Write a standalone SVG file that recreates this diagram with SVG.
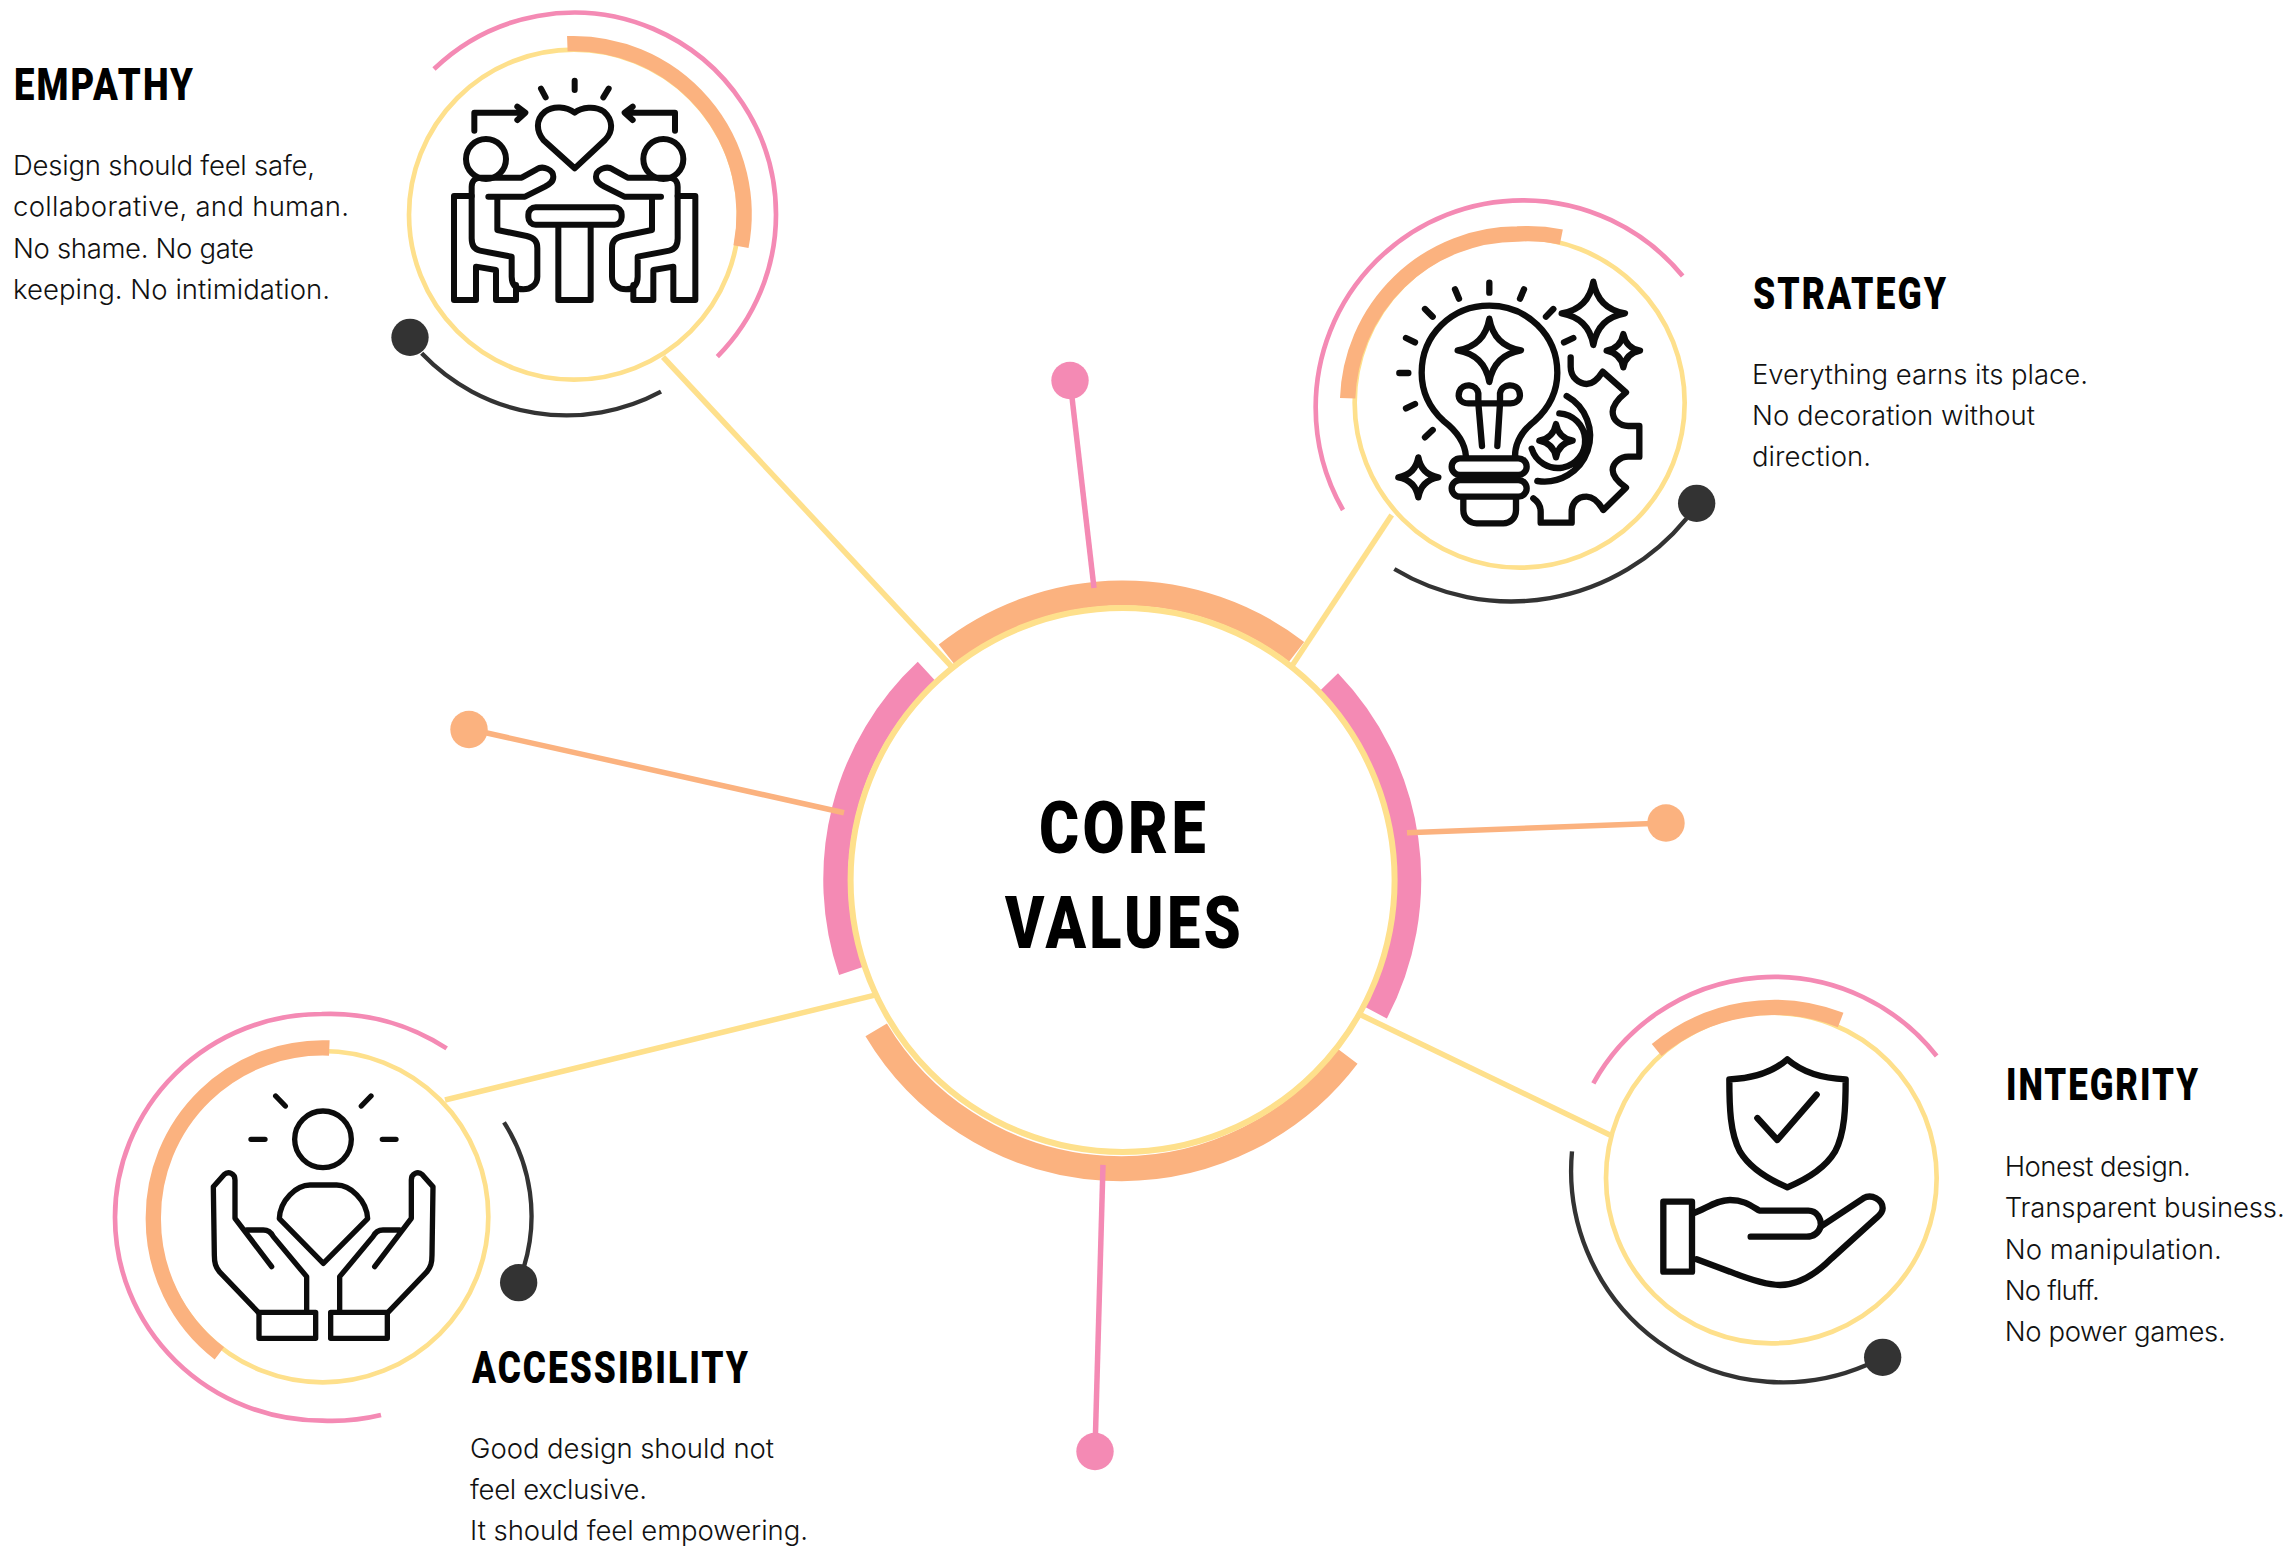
<svg xmlns="http://www.w3.org/2000/svg" width="2289" height="1560" viewBox="0 0 2289 1560">
<style>
.a{fill:none;stroke-linecap:butt}
.y{stroke:#FEE08C;stroke-width:14}
.p{stroke:#F48AB4;stroke-width:14}
.o{stroke:#FBB27F;stroke-width:46}
.d{stroke:#333;stroke-width:13}
.dot{fill:#333}
.ic{fill:none;stroke:#0c0c0c;stroke-width:18;stroke-linecap:round;stroke-linejoin:round}
.ln{fill:none;stroke-width:5.5}
.ly{stroke:#FEE08C}.lo{stroke:#FBB27F}.lp{stroke:#F48AB4}
.h{font-family:"Roboto","Liberation Sans",sans-serif;font-weight:900;font-size:44px;letter-spacing:2.5px;fill:#000}
.b{font-family:"Inter","Liberation Sans",sans-serif;font-weight:300;font-size:27.5px;fill:#111}
.t{font-family:"Roboto","Liberation Sans",sans-serif;font-weight:900;font-size:73px;letter-spacing:4px;fill:#000}
</style>
<g id="core">
<path class="a" d="M946.5,654.3 A285,285 0 0 1 1296.6,651.8" stroke="#FBB27F" stroke-width="25"/>
<path class="a" d="M926.3,671 A285,285 0 0 0 850.9,971" stroke="#F48AB4" stroke-width="25"/>
<path class="a" d="M1329,682 A285,285 0 0 1 1375.8,1012.7" stroke="#F48AB4" stroke-width="25"/>
<path class="a" d="M876.2,1029.8 A285,285 0 0 0 1347.6,1056.3" stroke="#FBB27F" stroke-width="25"/>
<circle cx="1122.6" cy="880" r="272" fill="#fff" stroke="#FEE08C" stroke-width="6"/>
<text class="t" x="1039" y="853" textLength="170" lengthAdjust="spacingAndGlyphs">CORE</text>
<text class="t" x="1005" y="948" textLength="239" lengthAdjust="spacingAndGlyphs">VALUES</text>
</g>
<g id="connectors">
<line class="ln ly" x1="663" y1="357" x2="952" y2="667"/>
<line class="ln ly" x1="1391.7" y1="515" x2="1292.4" y2="665.3"/>
<line class="ln ly" x1="445" y1="1100" x2="874.9" y2="995.1"/>
<line class="ln ly" x1="1610" y1="1135" x2="1361" y2="1015"/>
<line class="ln lp" x1="1070" y1="380" x2="1094" y2="588"/>
<line class="ln lo" x1="469" y1="729" x2="844" y2="812.7"/>
<line class="ln lo" x1="1666" y1="823" x2="1407" y2="832.7"/>
<line class="ln lp" x1="1095" y1="1451" x2="1103" y2="1164.8"/>
</g>
<g id="pins">
<circle cx="1070" cy="380.5" r="18.7" fill="#F48AB4"/>
<circle cx="469" cy="729.5" r="18.7" fill="#FBB27F"/>
<circle cx="1666" cy="823" r="18.7" fill="#FBB27F"/>
<circle cx="1095" cy="1451.5" r="18.7" fill="#F48AB4"/>
</g>
<g id="empathy">
<g transform="translate(380 0) scale(.33333)">
<circle class="a y" cx="582" cy="644" r="495"/>
<path class="a p" d="M162,207 A606,606 0 0 1 1188,644 A606,606 0 0 1 1012,1070"/>
<path class="a o" d="M562,131 A512,512 0 0 1 1083,740"/>
<path class="a d" d="M125,1060 A600,600 0 0 0 843,1175"/>
<circle class="dot" cx="90" cy="1012" r="56"/>
<g class="ic">
<path d="M483,266L497,292M584,242V270M686,266L670,292"/>
<path d="M283,392V338H430M412,320L436,338L412,360M885,392V338H740M758,320L734,338L758,360"/>
<path d="M584,338C560,320 520,316 495,335C465,360 470,395 490,420L584,505L675,420C700,395 700,360 672,335C645,316 605,322 584,338Z"/>
<rect x="445" y="622" width="280" height="52" rx="22"/>
<path d="M535,680V900H632V680"/>
<g id="emp-person">
<circle cx="318" cy="477" r="60"/>
<path d="M300,533H425L470,508C490,495 520,510 520,530C520,545 510,552 495,560L435,590H325M352,590V690L440,708C465,715 472,725 472,745V830C472,855 450,868 430,868C405,868 395,850 395,830V770L300,752C280,748 275,730 275,715V560C275,545 285,533 300,533"/>
<path d="M275,588H222V900H288V800L348,810V900H408V855"/>
</g>
<g transform="translate(1168 0) scale(-1 1)">
<circle cx="318" cy="477" r="60"/>
<path d="M300,533H425L470,508C490,495 520,510 520,530C520,545 510,552 495,560L435,590H325M352,590V690L440,708C465,715 472,725 472,745V830C472,855 450,868 430,868C405,868 395,850 395,830V770L300,752C280,748 275,730 275,715V560C275,545 285,533 300,533"/>
<path d="M275,588H222V900H288V800L348,810V900H408V855"/>
</g>
</g>
</g>
<text class="h" x="14" y="100" textLength="181" lengthAdjust="spacingAndGlyphs">EMPATHY</text>
<text class="b" x="13" y="174.8" textLength="302" lengthAdjust="spacing">Design should feel safe,</text>
<text class="b" x="13" y="216.3" textLength="336" lengthAdjust="spacing">collaborative, and human.</text>
<text class="b" x="13" y="257.8" textLength="241" lengthAdjust="spacing">No shame. No gate</text>
<text class="b" x="13" y="299.1" textLength="317" lengthAdjust="spacing">keeping. No intimidation.</text>
</g>
<g id="strategy">
<g transform="translate(1300 190) scale(.33333)">
<circle class="a y" cx="659" cy="638" r="495"/>
<path class="a p" d="M1148,258 A621,621 0 0 0 668,31 A621,621 0 0 0 47,652 A621,621 0 0 0 129,960"/>
<path class="a o" d="M784,141 A512,512 0 0 0 652,132 A510,510 0 0 0 143,625"/>
<path class="a d" d="M1160,985 A680,680 0 0 1 283,1137"/>
<circle class="dot" cx="1190" cy="940" r="56"/>
<g class="ic" style="stroke-width:19">
<path d="M568,278V308M465,298L477,326M672,298L660,326M375,357L398,380M760,357L738,380M318,444L345,457M820,444L792,457M298,549H325M318,655L345,642M375,742L398,720"/>
<path d="M498,800C495,750 460,715 430,692C390,655 365,610 365,548C365,435 455,347 568,347C681,347 772,435 772,548C772,610 745,655 705,692C675,715 645,750 645,800"/>
<rect x="455" y="805" width="225" height="50" rx="25"/>
<rect x="455" y="870" width="225" height="50" rx="25"/>
<path d="M490,925V960C490,985 510,1000 530,1000H610C630,1000 648,985 648,960V925"/>
<path d="M546,768L535,640H505C480,640 472,622 478,605C487,578 530,580 535,610V640H600V610C605,580 650,578 658,605C664,622 655,640 632,640H600L592,768"/>
<path d="M568,386Q582,467 663,481Q582,495 568,576Q554,495 473,481Q554,467 568,386Z"/>
<path d="M880,275Q894,356 975,370Q894,384 880,465Q866,384 785,370Q866,356 880,275Z"/>
<path d="M970,432Q978,474 1020,482Q978,490 970,532Q962,490 920,482Q962,474 970,432Z"/>
<path d="M355,802Q364,853 415,862Q364,871 355,922Q346,871 295,862Q346,853 355,802Z"/>
<path d="M768,702Q776,744 818,752Q776,760 768,802Q760,760 718,752Q760,744 768,702Z"/>
<path d="M812,502V530C812,565 840,582 860,582C880,582 895,565 908,545L978,607C950,630 938,650 938,665C938,690 960,708 985,708H1018V800H985C960,800 938,820 938,840C938,860 960,880 978,893L910,960C895,935 880,920 860,920C830,920 815,940 815,965V998H722V965C722,945 710,932 700,925"/>
<path d="M800,618A137,137 0 0 1 712,873M778,670A82,82 0 1 1 695,776"/>
</g>
</g>
<text class="h" x="1753" y="309" textLength="195" lengthAdjust="spacingAndGlyphs">STRATEGY</text>
<text class="b" x="1752" y="384.1" textLength="336" lengthAdjust="spacing">Everything earns its place.</text>
<text class="b" x="1752" y="424.8" textLength="283" lengthAdjust="spacing">No decoration without</text>
<text class="b" x="1752" y="465.8" textLength="119" lengthAdjust="spacing">direction.</text>
</g>
<g id="accessibility">
<g transform="translate(100 1000) scale(.33333)">
<circle class="a y" cx="668" cy="650" r="497"/>
<path class="a p" d="M1040,145 A640,640 0 0 0 665,42 A620,610 0 0 0 45,652 A622,610 0 0 0 667,1262 A620,620 0 0 0 843,1245"/>
<path class="a o" d="M688,144 A508,508 0 0 0 160,652 A508,508 0 0 0 358,1060"/>
<path class="a d" d="M1212,367 A520,520 0 0 1 1272,800"/>
<circle class="dot" cx="1256" cy="848" r="56"/>
<g class="ic" style="stroke-width:16">
<path d="M527,288L556,318M813,288L784,318M453,418H495M847,418H888"/>
<circle cx="669" cy="418" r="85"/>
<path d="M538,656C540,600 590,555 630,555H710C750,555 800,600 803,656L670,790Z"/>
<path d="M475,937L358,815C347,800 343,790 343,765L340,560L372,524C385,512 405,520 405,540V655L515,800M440,690H490C505,690 515,700 520,710L620,830V937"/>
<rect x="477" y="937" width="170" height="78"/>
<g transform="translate(1339 0) scale(-1 1)">
<path d="M475,937L358,815C347,800 343,790 343,765L340,560L372,524C385,512 405,520 405,540V655L515,800M440,690H490C505,690 515,700 520,710L620,830V937"/>
<rect x="477" y="937" width="170" height="78"/>
</g>
</g>
</g>
<text class="h" x="472" y="1382.6" textLength="278" lengthAdjust="spacingAndGlyphs">ACCESSIBILITY</text>
<text class="b" x="470" y="1458" textLength="304" lengthAdjust="spacing">Good design should not</text>
<text class="b" x="470" y="1499.3" textLength="177" lengthAdjust="spacing">feel exclusive.</text>
<text class="b" x="470" y="1540.3" textLength="338" lengthAdjust="spacing">It should feel empowering.</text>
</g>
<g id="integrity">
<g transform="translate(1560 960) scale(.33333)">
<circle class="a y" cx="634" cy="654" r="496"/>
<path class="a p" d="M100,370 A620,620 0 0 1 1130,288"/>
<path class="a o" d="M290,270 A550,550 0 0 1 842,180"/>
<path class="a d" d="M36,574 A635,635 0 0 0 920,1215"/>
<circle class="dot" cx="968" cy="1192" r="56"/>
<g class="ic" style="stroke-width:19">
<path d="M682,298C640,335 580,355 508,358C508,440 510,520 540,575C570,625 630,660 682,682C735,660 795,625 825,575C855,520 857,440 857,358C785,355 725,335 682,298Z"/>
<path d="M592,474L652,540L770,404"/>
<rect x="310" y="725" width="86" height="210"/>
<path d="M400,760C440,745 470,720 510,720C550,720 570,735 598,752H745C770,752 785,775 782,800C775,820 760,830 740,830H572"/>
<path d="M782,800L910,715C935,700 968,720 968,745C968,755 960,765 950,773L815,895C770,940 720,975 660,975C620,975 560,955 510,935L410,898"/>
</g>
</g>
<text class="h" x="2006" y="1100" textLength="194" lengthAdjust="spacingAndGlyphs">INTEGRITY</text>
<text class="b" x="2004.7" y="1175.8" textLength="186" lengthAdjust="spacing">Honest design.</text>
<text class="b" x="2004.7" y="1217.2" textLength="280" lengthAdjust="spacing">Transparent business.</text>
<text class="b" x="2004.7" y="1258.5" textLength="217" lengthAdjust="spacing">No manipulation.</text>
<text class="b" x="2004.7" y="1299.8" textLength="95" lengthAdjust="spacing">No fluff.</text>
<text class="b" x="2004.7" y="1340.5" textLength="221" lengthAdjust="spacing">No power games.</text>
</g>
</svg>
